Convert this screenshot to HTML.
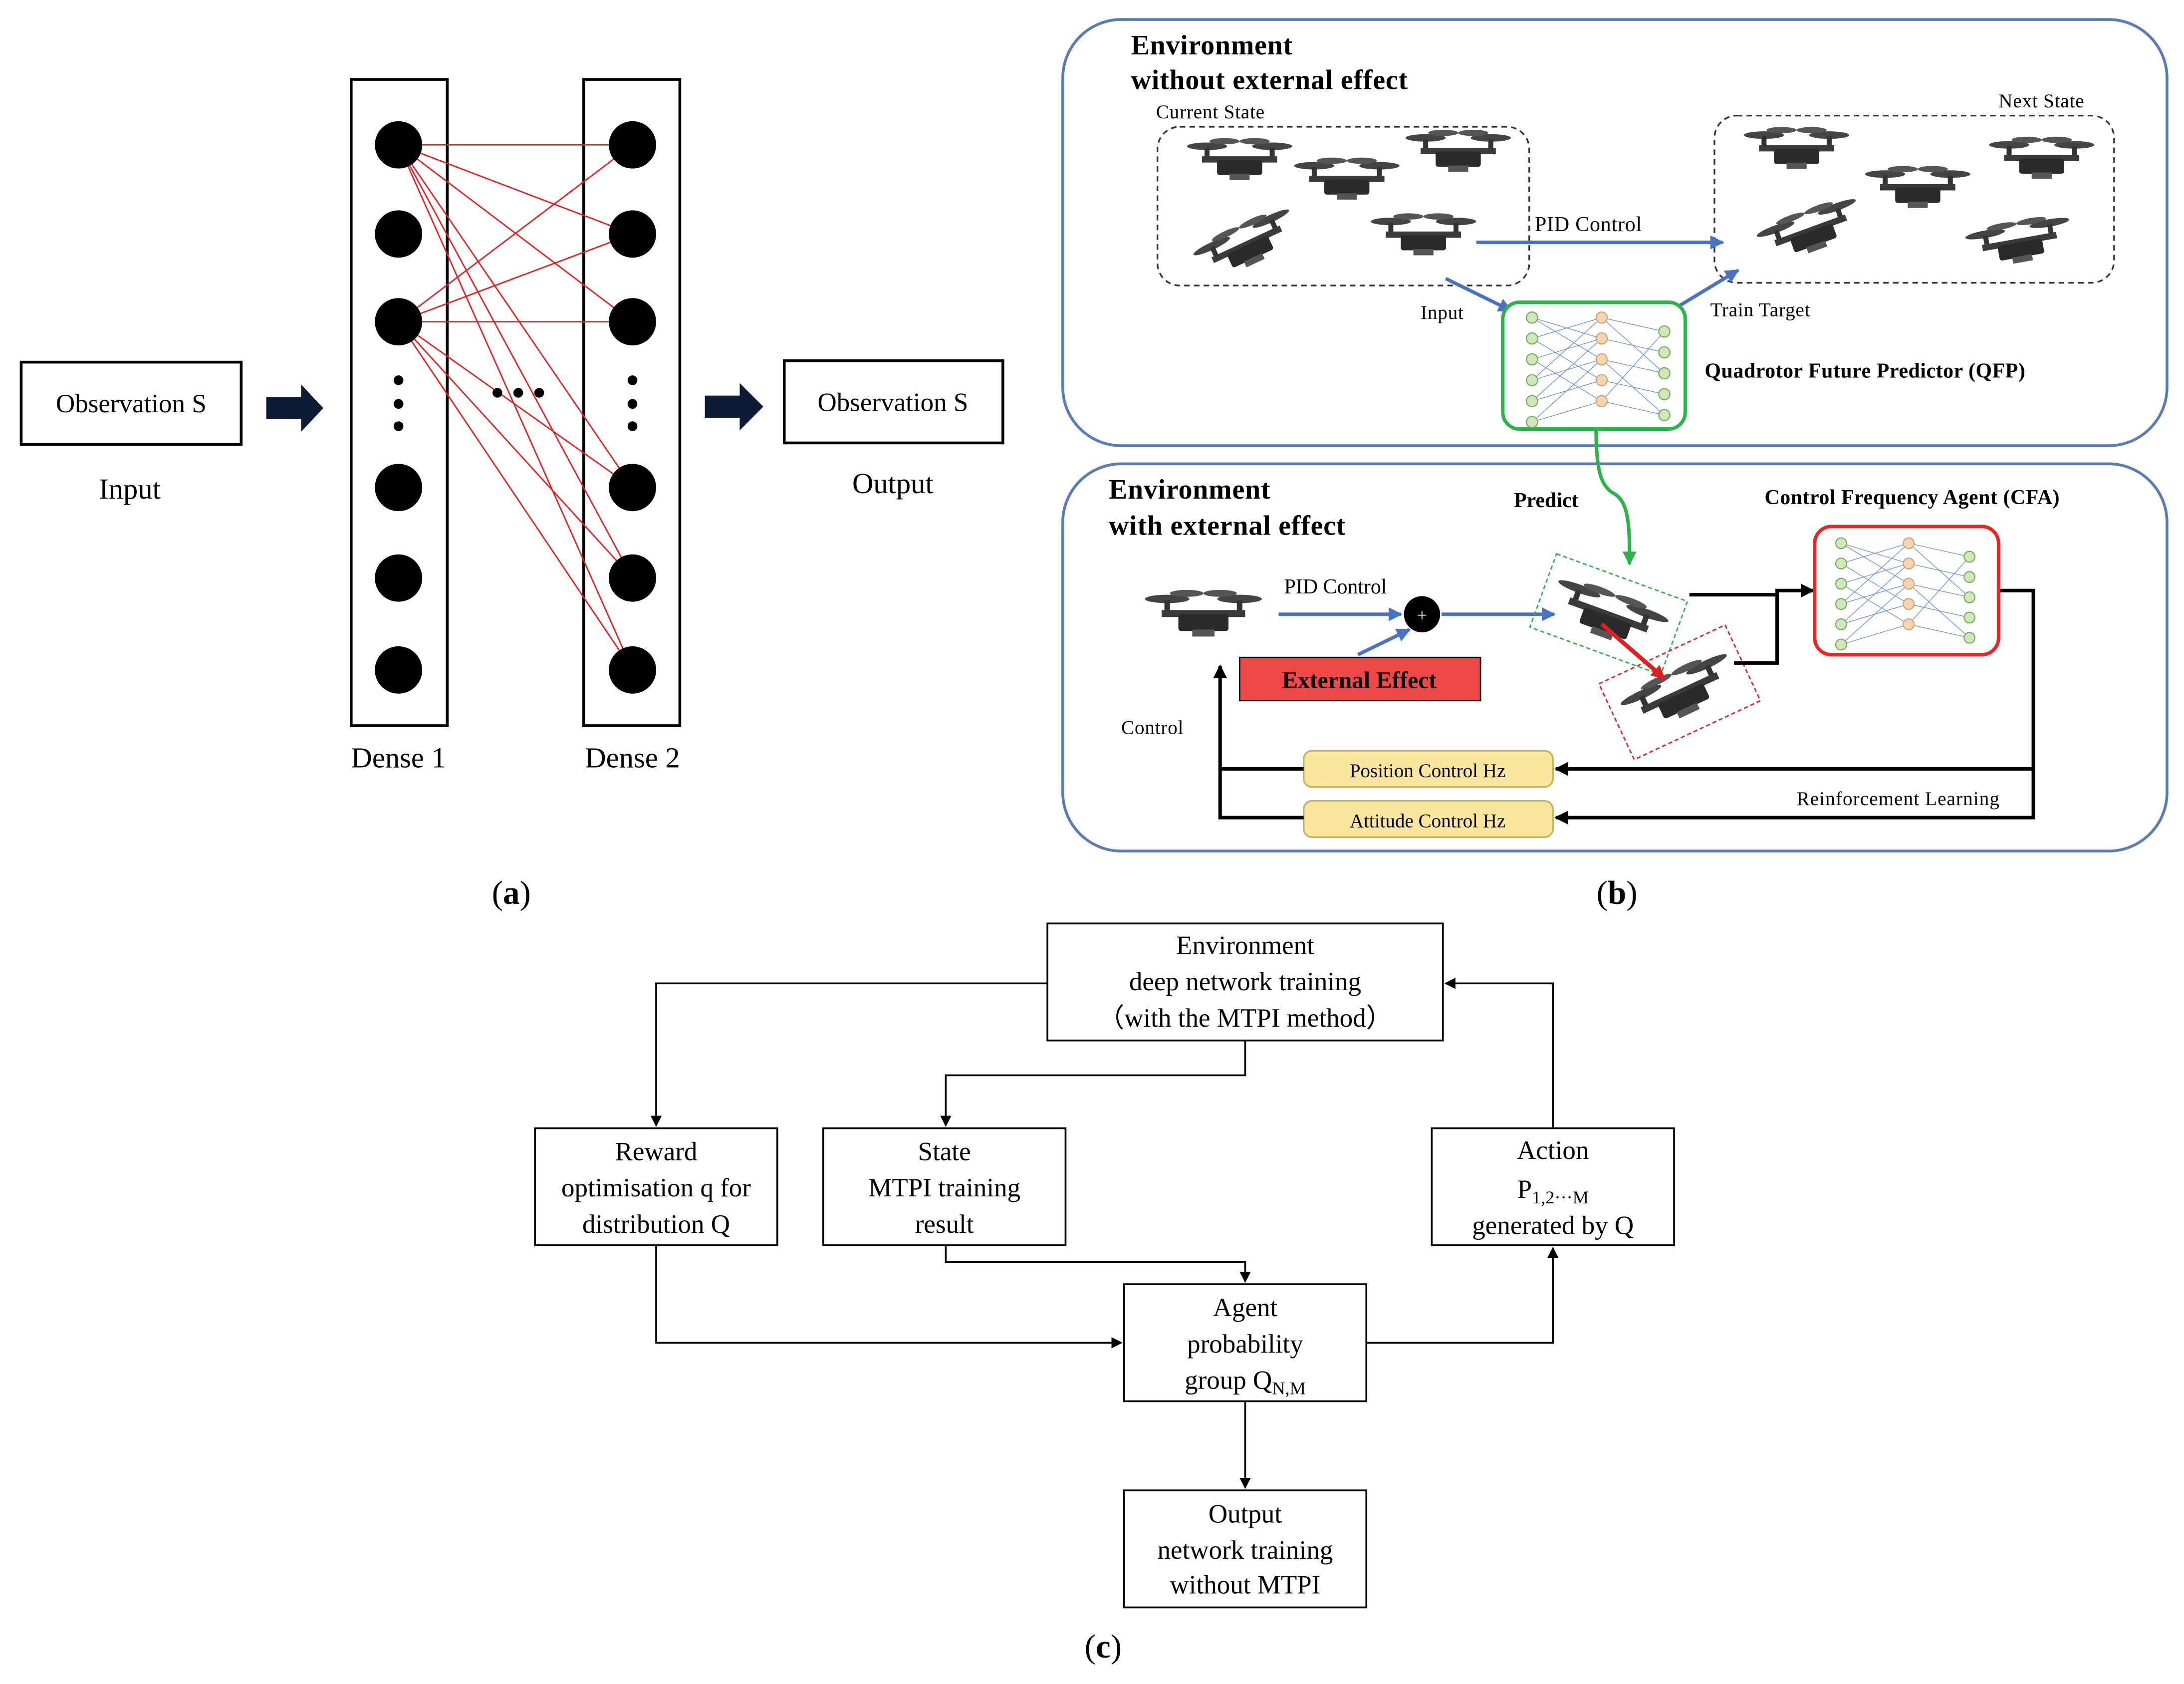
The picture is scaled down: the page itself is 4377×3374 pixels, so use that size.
<!DOCTYPE html>
<html><head><meta charset="utf-8"><style>
html,body{margin:0;padding:0;background:#fff;}
svg{display:block;}
text{font-family:"Liberation Serif",serif;}
</style></head><body>
<svg width="4377" height="3374" viewBox="0 0 1568 1209" xmlns="http://www.w3.org/2000/svg">
<defs>
<marker id="ab" markerWidth="8" markerHeight="8" refX="7" refY="4" orient="auto" markerUnits="userSpaceOnUse"><path d="M0,0 L8,4 L0,8 z" fill="#000"/></marker>
<marker id="abl" markerWidth="10" markerHeight="10" refX="9" refY="5" orient="auto" markerUnits="userSpaceOnUse"><path d="M0,0 L10,5 L0,10 z" fill="#4a72c4"/></marker>
<marker id="agr" markerWidth="10" markerHeight="10" refX="9" refY="5" orient="auto" markerUnits="userSpaceOnUse"><path d="M0,0 L10,5 L0,10 z" fill="#2db34a"/></marker>
<marker id="ard" markerWidth="10" markerHeight="10" refX="9" refY="5" orient="auto" markerUnits="userSpaceOnUse"><path d="M0,0 L10,5 L0,10 z" fill="#e02020"/></marker>
<marker id="ak" markerWidth="10" markerHeight="10" refX="9" refY="5" orient="auto" markerUnits="userSpaceOnUse"><path d="M0,0 L10,5 L0,10 z" fill="#000"/></marker>
<g id="drone">
<ellipse cx="-26" cy="-10" rx="16" ry="3" fill="#444"/><ellipse cx="26" cy="-10" rx="16" ry="3" fill="#444"/>
<ellipse cx="-12" cy="-14" rx="12" ry="2.5" fill="#555"/><ellipse cx="12" cy="-14" rx="12" ry="2.5" fill="#555"/>
<rect x="-28" y="-9" width="4" height="8" fill="#333"/><rect x="24" y="-9" width="4" height="8" fill="#333"/>
<rect x="-30" y="-2" width="60" height="5" fill="#3a3a3a"/>
<rect x="-18" y="1" width="36" height="12" rx="2" fill="#2a2a2a"/>
<rect x="-8" y="12" width="16" height="5" fill="#555"/>
</g>
<g id="nn">
<g stroke="#6a8ee0" stroke-width="0.5" fill="none">
<path d="M0,0 L50,15 M0,0 L50,30 M0,15 L50,0 M0,15 L50,45 M0,30 L50,15 M0,30 L50,60 M0,45 L50,30 M0,60 L50,45 M0,75 L50,60 M0,75 L50,30 M0,45 L50,0 M0,60 L50,15 M50,0 L95,10 M50,15 L95,25 M50,30 L95,40 M50,45 L95,55 M50,60 L95,70 M50,0 L95,40 M50,60 L95,10 M50,30 L95,70"/>
</g>
<g fill="#cfe8b8" stroke="#7aa860" stroke-width="0.8">
<circle cx="0" cy="0" r="4"/><circle cx="0" cy="15" r="4"/><circle cx="0" cy="30" r="4"/><circle cx="0" cy="45" r="4"/><circle cx="0" cy="60" r="4"/><circle cx="0" cy="75" r="4"/>
<circle cx="95" cy="10" r="4"/><circle cx="95" cy="25" r="4"/><circle cx="95" cy="40" r="4"/><circle cx="95" cy="55" r="4"/><circle cx="95" cy="70" r="4"/>
</g>
<g fill="#f3d6b0" stroke="#d0a070" stroke-width="0.8">
<circle cx="50" cy="0" r="4"/><circle cx="50" cy="15" r="4"/><circle cx="50" cy="30" r="4"/><circle cx="50" cy="45" r="4"/><circle cx="50" cy="60" r="4"/>
</g>
</g>
</defs>

<!-- (a) -->
<rect x="15" y="260" width="158" height="59" fill="none" stroke="#000" stroke-width="2"/>
<text x="94" y="296" font-size="19" text-anchor="middle">Observation S</text>
<text x="93" y="358" font-size="21" text-anchor="middle">Input</text>
<path d="M191,285 L216,285 L216,276 L232,293 L216,310 L216,301 L191,301 z" fill="#0d1a33"/>
<path d="M506,284 L531,284 L531,275 L548,292 L531,309 L531,300 L506,300 z" fill="#0d1a33"/>
<rect x="252" y="57" width="69" height="464" fill="none" stroke="#000" stroke-width="2"/>
<rect x="419" y="57" width="69" height="464" fill="none" stroke="#000" stroke-width="2"/>
<g stroke="#e62020" stroke-width="1">
<path d="M286,104 L454,104 M286,104 L454,168 M286,104 L454,231 M286,104 L454,350 M286,104 L454,415 M286,104 L454,481
M286,231 L454,104 M286,231 L454,168 M286,231 L454,231 M286,231 L454,350 M286,231 L454,415 M286,231 L454,481"/>
</g>
<g fill="#000">
<circle cx="286" cy="104" r="17"/><circle cx="286" cy="168" r="17"/><circle cx="286" cy="231" r="17"/><circle cx="286" cy="350" r="17"/><circle cx="286" cy="415" r="17"/><circle cx="286" cy="481" r="17"/>
<circle cx="454" cy="104" r="17"/><circle cx="454" cy="168" r="17"/><circle cx="454" cy="231" r="17"/><circle cx="454" cy="350" r="17"/><circle cx="454" cy="415" r="17"/><circle cx="454" cy="481" r="17"/>
<circle cx="286" cy="273" r="3.5"/><circle cx="286" cy="290" r="3.5"/><circle cx="286" cy="306" r="3.5"/>
<circle cx="454" cy="273" r="3.5"/><circle cx="454" cy="290" r="3.5"/><circle cx="454" cy="306" r="3.5"/>
<circle cx="357" cy="282" r="3.5"/><circle cx="372" cy="282" r="3.5"/><circle cx="387" cy="282" r="3.5"/>
</g>
<text x="286" y="551" font-size="21" text-anchor="middle">Dense 1</text>
<text x="454" y="551" font-size="21" text-anchor="middle">Dense 2</text>
<rect x="563" y="259" width="157" height="59" fill="none" stroke="#000" stroke-width="2"/>
<text x="641" y="295" font-size="19" text-anchor="middle">Observation S</text>
<text x="641" y="354" font-size="21" text-anchor="middle">Output</text>
<text x="367" y="649" font-size="24" text-anchor="middle">(<tspan font-weight="bold">a</tspan>)</text>

<!-- (b) top -->
<rect x="763" y="14" width="793" height="306" rx="42" fill="none" stroke="#5a7ab8" stroke-width="2"/>
<text x="812" y="39" font-size="20" font-weight="bold" letter-spacing="0.3">Environment</text>
<text x="812" y="64" font-size="20" font-weight="bold" letter-spacing="0.3">without external effect</text>
<text x="830" y="85" font-size="14" letter-spacing="0.3">Current State</text>
<text x="1435" y="77" font-size="14" letter-spacing="0.3">Next State</text>
<rect x="831" y="91" width="267" height="114" rx="16" fill="none" stroke="#333" stroke-width="1.2" stroke-dasharray="4,3"/>
<rect x="1231" y="83" width="287" height="120" rx="16" fill="none" stroke="#333" stroke-width="1.2" stroke-dasharray="4,3"/>
<use href="#drone" transform="translate(890,114) scale(0.9)"/>
<use href="#drone" transform="translate(967,128) scale(0.9)"/>
<use href="#drone" transform="translate(1047,108) scale(0.9)"/>
<use href="#drone" transform="translate(895,175) rotate(-25) scale(0.9)"/>
<use href="#drone" transform="translate(1022,168) scale(0.9)"/>
<use href="#drone" transform="translate(1290,106) scale(0.9)"/>
<use href="#drone" transform="translate(1377,134) scale(0.9)"/>
<use href="#drone" transform="translate(1466,113) scale(0.9)"/>
<use href="#drone" transform="translate(1300,165) rotate(-20) scale(0.9)"/>
<use href="#drone" transform="translate(1450,173) rotate(-10) scale(0.9)"/>
<line x1="1060" y1="174" x2="1237" y2="174" stroke="#4a72c4" stroke-width="2.5" marker-end="url(#abl)"/>
<text x="1102" y="166" font-size="15" letter-spacing="0.3">PID Control</text>
<line x1="1038" y1="200" x2="1085" y2="223" stroke="#4a72c4" stroke-width="2.5" marker-end="url(#abl)"/>
<text x="1020" y="229" font-size="14" letter-spacing="0.3">Input</text>
<line x1="1200" y1="223" x2="1248" y2="194" stroke="#4a72c4" stroke-width="2.5" marker-end="url(#abl)"/>
<text x="1228" y="227" font-size="14" letter-spacing="0.3">Train Target</text>
<rect x="1079" y="217" width="131" height="91" rx="12" fill="#fff" stroke="#2db34a" stroke-width="2.5"/>
<use href="#nn" transform="translate(1100,228)"/>
<text x="1224" y="271" font-size="15" font-weight="bold" letter-spacing="0.2">Quadrotor Future Predictor (QFP)</text>

<!-- (b) bottom -->
<rect x="763" y="333" width="793" height="278" rx="42" fill="none" stroke="#5a7ab8" stroke-width="2"/>
<text x="796" y="358" font-size="20" font-weight="bold" letter-spacing="0.3">Environment</text>
<text x="796" y="384" font-size="20" font-weight="bold" letter-spacing="0.3">with external effect</text>
<text x="1087" y="364" font-size="15" font-weight="bold">Predict</text>
<text x="1267" y="362" font-size="15" font-weight="bold" letter-spacing="0.2">Control Frequency Agent (CFA)</text>
<path d="M1146,308 C1146,340 1150,350 1160,355 C1170,362 1170,380 1170,405" fill="none" stroke="#2db34a" stroke-width="2.5" marker-end="url(#agr)"/>
<use href="#drone" transform="translate(864,440)"/>
<text x="922" y="426" font-size="15">PID Control</text>
<line x1="918" y1="441" x2="1006" y2="441" stroke="#4a72c4" stroke-width="2.5" marker-end="url(#abl)"/>
<circle cx="1021" cy="441" r="13" fill="#000"/>
<text x="1021" y="446" font-size="13" fill="#fff" text-anchor="middle">+</text>
<line x1="1035" y1="441" x2="1116" y2="441" stroke="#4a72c4" stroke-width="2.5" marker-end="url(#abl)"/>
<line x1="975" y1="470" x2="1012" y2="452" stroke="#4a72c4" stroke-width="2.5" marker-end="url(#abl)"/>
<rect x="890" y="472" width="173" height="31" fill="#f04848" stroke="#000" stroke-width="1"/>
<text x="976" y="494" font-size="17" font-weight="bold" text-anchor="middle">External Effect</text>
<g transform="translate(1155,441) rotate(20)">
<rect x="-50" y="-28" width="100" height="56" fill="none" stroke="#2db34a" stroke-width="1" stroke-dasharray="3,2"/>
<use href="#drone"/>
</g>
<g transform="translate(1206,497) rotate(-25)">
<rect x="-50" y="-30" width="100" height="60" fill="none" stroke="#e02020" stroke-width="1" stroke-dasharray="3,2"/>
<use href="#drone"/>
</g>
<line x1="1150" y1="448" x2="1195" y2="487" stroke="#e02020" stroke-width="3" marker-end="url(#ard)"/>
<path d="M1213,427 L1276,427 L1276,476 L1245,476 M1276,427 L1276,424 L1302,424" fill="none" stroke="#000" stroke-width="2.5" marker-end="url(#ak)"/>
<rect x="1303" y="378" width="132" height="92" rx="12" fill="#fff" stroke="#e62828" stroke-width="2.5"/>
<use href="#nn" transform="translate(1322,390) scale(0.97)"/>
<path d="M1436,424 L1460,424 L1460,587 L1117,587" fill="none" stroke="#000" stroke-width="2.5" marker-end="url(#ak)"/>
<path d="M1460,552 L1117,552" fill="none" stroke="#000" stroke-width="2.5" marker-end="url(#ak)"/>
<text x="1290" y="578" font-size="14" letter-spacing="0.4">Reinforcement Learning</text>
<rect x="936" y="539" width="179" height="26" rx="6" fill="#fbe6a0" stroke="#c8b060" stroke-width="1.2"/>
<text x="1025" y="558" font-size="14" text-anchor="middle">Position Control Hz</text>
<rect x="936" y="575" width="179" height="26" rx="6" fill="#fbe6a0" stroke="#c8b060" stroke-width="1.2"/>
<text x="1025" y="594" font-size="14" text-anchor="middle">Attitude Control Hz</text>
<path d="M936,552 L876,552 L876,478" fill="none" stroke="#000" stroke-width="2.5" marker-end="url(#ak)"/>
<path d="M936,587 L876,587 L876,552" fill="none" stroke="#000" stroke-width="2.5"/>
<text x="805" y="527" font-size="14" letter-spacing="0.3">Control</text>
<text x="1161" y="649" font-size="24" text-anchor="middle">(<tspan font-weight="bold">b</tspan>)</text>

<!-- (c) -->
<g fill="none" stroke="#000" stroke-width="1.3">
<rect x="752" y="663" width="284" height="84"/>
<rect x="384" y="810" width="174" height="84"/>
<rect x="591" y="810" width="174" height="84"/>
<rect x="1028" y="810" width="174" height="84"/>
<rect x="807" y="922" width="174" height="84"/>
<rect x="807" y="1070" width="174" height="84"/>
<path d="M752,706 L471,706 L471,808" marker-end="url(#ab)"/>
<path d="M894,747 L894,772 L679,772 L679,808" marker-end="url(#ab)"/>
<path d="M679,894 L679,906 L894,906 L894,920" marker-end="url(#ab)"/>
<path d="M471,894 L471,964 L805,964" marker-end="url(#ab)"/>
<path d="M981,964 L1115,964 L1115,896" marker-end="url(#ab)"/>
<path d="M1115,810 L1115,706 L1038,706" marker-end="url(#ab)"/>
<path d="M894,1006 L894,1068" marker-end="url(#ab)"/>
</g>
<g font-size="19" text-anchor="middle">
<text x="894" y="685">Environment</text>
<text x="894" y="711">deep network training</text>
<text x="894" y="737">（with the MTPI method）</text>
<text x="471" y="833">Reward</text>
<text x="471" y="859">optimisation q for</text>
<text x="471" y="885">distribution Q</text>
<text x="678" y="833">State</text>
<text x="678" y="859">MTPI training</text>
<text x="678" y="885">result</text>
<text x="1115" y="832">Action</text>
<text x="1115" y="860">P<tspan font-size="13" dy="4">1,2···M</tspan></text>
<text x="1115" y="886">generated by Q</text>
<text x="894" y="945">Agent</text>
<text x="894" y="971">probability</text>
<text x="894" y="997">group Q<tspan font-size="13" dy="4">N,M</tspan></text>
<text x="894" y="1093">Output</text>
<text x="894" y="1119">network training</text>
<text x="894" y="1144">without MTPI</text>
</g>
<text x="792" y="1190" font-size="24" text-anchor="middle">(<tspan font-weight="bold">c</tspan>)</text>
</svg>
</body></html>
